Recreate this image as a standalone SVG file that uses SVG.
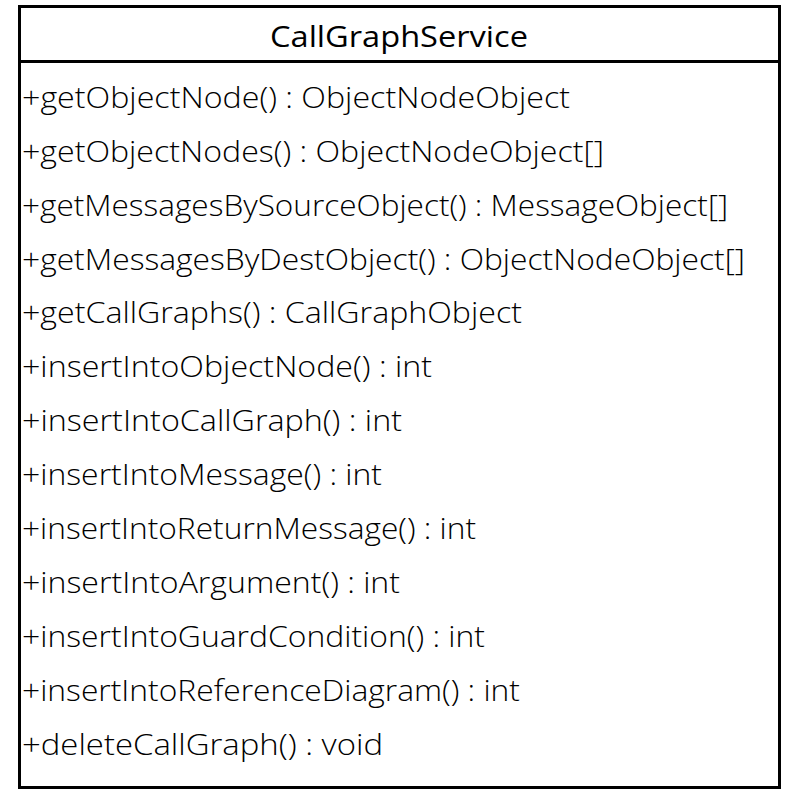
<svg xmlns="http://www.w3.org/2000/svg" width="791" height="794" viewBox="0 0 791 794">
<style>
.t{font-family:"Open Sans","Noto Sans","DejaVu Sans",sans-serif;font-size:30px;font-weight:300;fill:#000}
.h{font-family:"Open Sans","Noto Sans","DejaVu Sans",sans-serif;font-size:30px;font-weight:400;fill:#000}
</style>
<rect x="0" y="0" width="791" height="794" fill="#fff"/>
<g id="CallGraphService">
<rect x="19.5" y="6.5" width="760" height="781" fill="#fff" stroke="#000" stroke-width="3"/>
<line x1="19.5" y1="61.5" x2="779.5" y2="61.5" stroke="#000" stroke-width="3"/>
<text class="h" x="270" y="47" textLength="258" lengthAdjust="spacingAndGlyphs">CallGraphService</text>
<text class="t" x="22" y="108" textLength="548" lengthAdjust="spacingAndGlyphs">+getObjectNode() : ObjectNodeObject</text>
<text class="t" x="22" y="162" textLength="582" lengthAdjust="spacingAndGlyphs">+getObjectNodes() : ObjectNodeObject[]</text>
<text class="t" x="22" y="216" textLength="706" lengthAdjust="spacingAndGlyphs">+getMessagesBySourceObject() : MessageObject[]</text>
<text class="t" x="22" y="270" textLength="723" lengthAdjust="spacingAndGlyphs">+getMessagesByDestObject() : ObjectNodeObject[]</text>
<text class="t" x="22" y="323" textLength="500" lengthAdjust="spacingAndGlyphs">+getCallGraphs() : CallGraphObject</text>
<text class="t" x="22" y="377" textLength="410" lengthAdjust="spacingAndGlyphs">+insertIntoObjectNode() : int</text>
<text class="t" x="22" y="431" textLength="380" lengthAdjust="spacingAndGlyphs">+insertIntoCallGraph() : int</text>
<text class="t" x="22" y="485" textLength="360" lengthAdjust="spacingAndGlyphs">+insertIntoMessage() : int</text>
<text class="t" x="22" y="539" textLength="454" lengthAdjust="spacingAndGlyphs">+insertIntoReturnMessage() : int</text>
<text class="t" x="22" y="593" textLength="378" lengthAdjust="spacingAndGlyphs">+insertIntoArgument() : int</text>
<text class="t" x="22" y="647" textLength="463" lengthAdjust="spacingAndGlyphs">+insertIntoGuardCondition() : int</text>
<text class="t" x="22" y="701" textLength="498" lengthAdjust="spacingAndGlyphs">+insertIntoReferenceDiagram() : int</text>
<text class="t" x="22" y="755" textLength="361" lengthAdjust="spacingAndGlyphs">+deleteCallGraph() : void</text>
</g>
</svg>
